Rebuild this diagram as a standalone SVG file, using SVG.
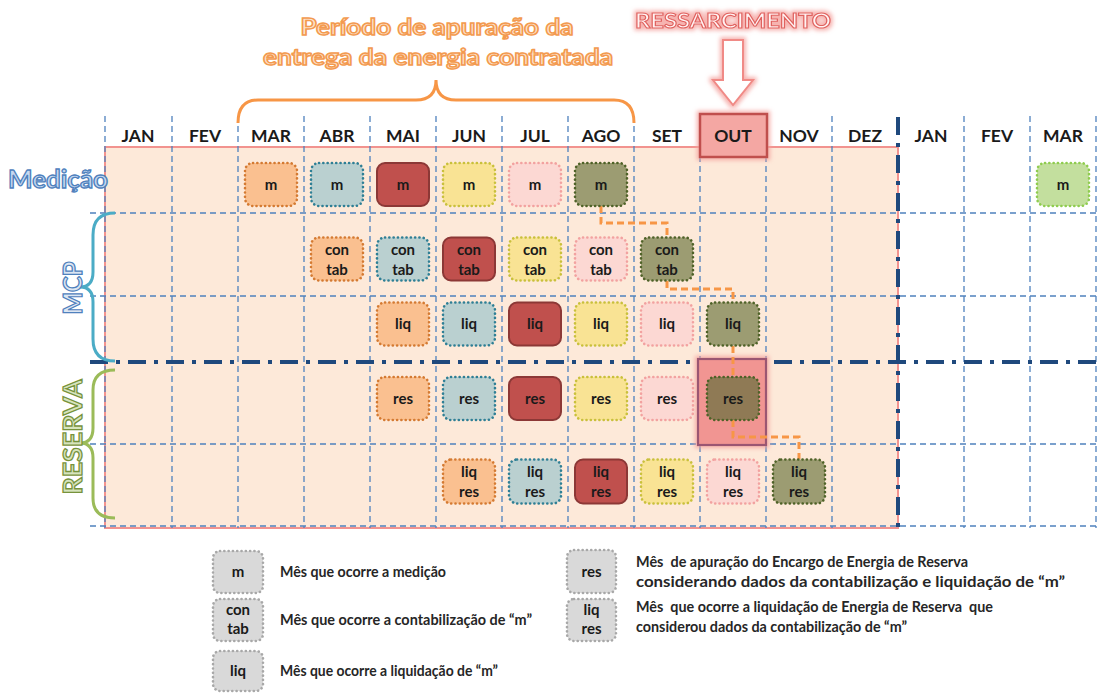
<svg xmlns="http://www.w3.org/2000/svg" width="1103" height="693" viewBox="0 0 1103 693">
<defs>
<style>
.mon{font-family:Lato,"Liberation Sans",sans-serif;font-weight:bold;font-size:17.5px;fill:#1a1a1a;text-anchor:middle}
.bt{font-family:Lato,"Liberation Sans",sans-serif;font-weight:bold;font-size:15px;fill:#1a1a1a;text-anchor:middle}
.lg{font-family:Lato,"Liberation Sans",sans-serif;font-weight:bold;font-size:15px;fill:#262626;white-space:pre}
.dot{stroke-width:2.6;stroke-dasharray:0.1 4.2;stroke-linecap:round}
.peach{fill:#fac090;stroke:#d47a32}
.blue{fill:#bad0d0;stroke:#2f7f95}
.red{fill:#c0504d;stroke:#8c3836;stroke-width:2}
.yellow{fill:#f9e394;stroke:#c9c03c}
.pink{fill:#fcd8d3;stroke:#f2a2a0}
.olive{fill:#9c9c72;stroke:#4f6228}
.brown{fill:#8f7a55;stroke:#4f6228}
.green{fill:#c3df9e;stroke:#8fcc4f}
.gray{fill:#d9d9d9;stroke:#a8a8a8}
.grid{stroke:#4f81bd;stroke-width:1.3;stroke-dasharray:6 4;fill:none}
.thick{stroke:#1f497d;stroke-width:4;stroke-dasharray:18 8 4 8;fill:none}
.conn{stroke:#f79646;stroke-width:3;stroke-dasharray:7 4;fill:none}
.outline{font-family:Lato,"Liberation Sans",sans-serif;font-weight:bold;text-anchor:middle}
</style>
<filter id="glow" x="-30%" y="-30%" width="160%" height="160%">
<feMorphology in="SourceAlpha" operator="dilate" radius="1.5" result="d"/>
<feGaussianBlur in="d" stdDeviation="2" result="b"/>
<feFlood flood-color="#f4a09c" flood-opacity="0.8"/>
<feComposite in2="b" operator="in" result="g"/>
<feMerge><feMergeNode in="g"/><feMergeNode in="SourceGraphic"/></feMerge>
</filter>
</defs>
<rect width="1103" height="693" fill="#ffffff"/>

<!-- background area -->
<rect x="105" y="147" width="793" height="381" fill="#fde9d9" stroke="#f2938f" stroke-width="2"/>

<!-- grid -->
<g id="grid">
<path class="grid" d="M105,116V528M172,116V528M238,116V528M304,116V528M370,116V528M436,116V528M502,116V528M568,116V528M634,116V528M700,116V528M766,116V528M832,116V528M964,116V528M1030,116V528M1096,116V528"/>
<path class="grid" d="M90,213H1100M90,296H1100M90,444H1100M90,526H1100"/>
<path class="thick" d="M90,362H1103"/>
<path class="thick" d="M898,117V528"/>
</g>

<!-- headers -->
<g id="out-highlight"><rect x="700" y="114" width="67" height="43" fill="#f4a7a3" stroke="#c0504d" stroke-width="2.5" filter="url(#glow)"/></g>
<g id="months">
<text class="mon" x="138" y="142">JAN</text>
<text class="mon" x="205" y="142">FEV</text>
<text class="mon" x="271" y="142">MAR</text>
<text class="mon" x="337" y="142">ABR</text>
<text class="mon" x="403" y="142">MAI</text>
<text class="mon" x="469" y="142">JUN</text>
<text class="mon" x="535" y="142">JUL</text>
<text class="mon" x="601" y="142">AGO</text>
<text class="mon" x="667" y="142">SET</text>
<text class="mon" x="733" y="142">OUT</text>
<text class="mon" x="799" y="142">NOV</text>
<text class="mon" x="865" y="142">DEZ</text>
<text class="mon" x="931" y="142">JAN</text>
<text class="mon" x="997" y="142">FEV</text>
<text class="mon" x="1063" y="142">MAR</text>
</g>

<!-- title / brace -->
<g id="periodo">
<text class="outline" x="437" y="35" font-size="23" fill="#fde3cc" stroke="#f39a4f" stroke-width="1.5" textLength="273" lengthAdjust="spacingAndGlyphs">Período de apuração da</text>
<text class="outline" x="438" y="65" font-size="23" fill="#fde3cc" stroke="#f39a4f" stroke-width="1.5" textLength="350" lengthAdjust="spacingAndGlyphs">entrega da energia contratada</text>
<path d="M238,123 Q238,100 258,100 H416 Q436,100 436,80 Q436,100 456,100 H614 Q634,100 634,123" fill="none" stroke="#f79646" stroke-width="3"/>
</g>
<g id="ressarcimento">
<text class="outline" x="733" y="28" font-size="21" fill="#fff3f3" stroke="#e0625f" stroke-width="1.1" textLength="196" lengthAdjust="spacingAndGlyphs" filter="url(#glow)">RESSARCIMENTO</text>
<polygon points="723,40 743,40 743,80 753,80 733,105 713,80 723,80" fill="#ffffff" stroke="#f08a86" stroke-width="2" filter="url(#glow)"/>
</g>

<!-- side labels -->
<g id="medicao"><text class="outline" x="58" y="188" font-size="24" fill="#c6d9f1" stroke="#4f81bd" stroke-width="1.3" textLength="100" lengthAdjust="spacingAndGlyphs">Medição</text></g>
<g id="mcp">
<path d="M115,213 Q93,213 93,235 V272 Q93,287 80,287 Q93,287 93,302 V339 Q93,361 115,361" fill="none" stroke="#4bacc6" stroke-width="3"/>
<text class="outline" transform="translate(82,288) rotate(-90)" x="0" y="0" font-size="27" fill="#dce6f2" stroke="#4f81bd" stroke-width="1.3" textLength="53" lengthAdjust="spacingAndGlyphs">MCP</text>
</g>
<g id="reserva">
<path d="M115,370 Q93,370 93,390 V428 Q93,443 80,443 Q93,443 93,458 V498 Q93,518 115,518" fill="none" stroke="#9bbb59" stroke-width="3"/>
<text class="outline" transform="translate(82,437) rotate(-90)" x="0" y="0" font-size="27" fill="#d7e4bd" stroke="#77933c" stroke-width="1.3" textLength="115" lengthAdjust="spacingAndGlyphs">RESERVA</text>
</g>

<!-- highlight behind res OUT -->
<g id="res-out-highlight"><rect x="698" y="359" width="68" height="86" fill="#f19592" stroke="#9b5672" stroke-width="2.2" filter="url(#glow)"/></g>

<!-- connectors -->
<g id="connectors">
<path class="conn" d="M601,206 V223 H667 V237"/>
<path class="conn" d="M667,281 V289 H733 V302"/>
<path class="conn" d="M733,346 V377"/>
<path class="conn" d="M733,420 V437 H799 V459"/>
</g>

<!-- Medição row -->
<g id="m-mar"><rect class="peach dot" x="245" y="163" width="52" height="43" rx="8"/><text class="bt" x="271" y="189.5">m</text></g>
<g id="m-abr"><rect class="blue dot" x="311" y="163" width="52" height="43" rx="8"/><text class="bt" x="337" y="189.5">m</text></g>
<g id="m-mai"><rect class="red" x="377" y="163" width="52" height="43" rx="8"/><text class="bt" x="403" y="189.5">m</text></g>
<g id="m-jun"><rect class="yellow dot" x="443" y="163" width="52" height="43" rx="8"/><text class="bt" x="469" y="189.5">m</text></g>
<g id="m-jul"><rect class="pink dot" x="509" y="163" width="52" height="43" rx="8"/><text class="bt" x="535" y="189.5">m</text></g>
<g id="m-ago"><rect class="olive dot" x="575" y="163" width="52" height="43" rx="8"/><text class="bt" x="601" y="189.5">m</text></g>
<g id="m-mar2"><rect class="green dot" x="1037" y="163" width="52" height="43" rx="8"/><text class="bt" x="1063" y="189.5">m</text></g>

<!-- MCP contab row -->
<g id="ct-abr"><rect class="peach dot" x="311" y="237.5" width="52" height="43" rx="8"/><text class="bt" x="337" y="255">con</text><text class="bt" x="337" y="274.5">tab</text></g>
<g id="ct-mai"><rect class="blue dot" x="377" y="237.5" width="52" height="43" rx="8"/><text class="bt" x="403" y="255">con</text><text class="bt" x="403" y="274.5">tab</text></g>
<g id="ct-jun"><rect class="red" x="443" y="237.5" width="52" height="43" rx="8"/><text class="bt" x="469" y="255">con</text><text class="bt" x="469" y="274.5">tab</text></g>
<g id="ct-jul"><rect class="yellow dot" x="509" y="237.5" width="52" height="43" rx="8"/><text class="bt" x="535" y="255">con</text><text class="bt" x="535" y="274.5">tab</text></g>
<g id="ct-ago"><rect class="pink dot" x="575" y="237.5" width="52" height="43" rx="8"/><text class="bt" x="601" y="255">con</text><text class="bt" x="601" y="274.5">tab</text></g>
<g id="ct-set"><rect class="olive dot" x="641" y="237.5" width="52" height="43" rx="8"/><text class="bt" x="667" y="255">con</text><text class="bt" x="667" y="274.5">tab</text></g>

<!-- MCP liq row -->
<g id="lq-mai"><rect class="peach dot" x="377" y="302.5" width="52" height="43" rx="8"/><text class="bt" x="403" y="329">liq</text></g>
<g id="lq-jun"><rect class="blue dot" x="443" y="302.5" width="52" height="43" rx="8"/><text class="bt" x="469" y="329">liq</text></g>
<g id="lq-jul"><rect class="red" x="509" y="302.5" width="52" height="43" rx="8"/><text class="bt" x="535" y="329">liq</text></g>
<g id="lq-ago"><rect class="yellow dot" x="575" y="302.5" width="52" height="43" rx="8"/><text class="bt" x="601" y="329">liq</text></g>
<g id="lq-set"><rect class="pink dot" x="641" y="302.5" width="52" height="43" rx="8"/><text class="bt" x="667" y="329">liq</text></g>
<g id="lq-out"><rect class="olive dot" x="707" y="302.5" width="52" height="43" rx="8"/><text class="bt" x="733" y="329">liq</text></g>

<!-- RESERVA res row -->
<g id="rs-mai"><rect class="peach dot" x="377" y="377" width="52" height="43" rx="8"/><text class="bt" x="403" y="403.5">res</text></g>
<g id="rs-jun"><rect class="blue dot" x="443" y="377" width="52" height="43" rx="8"/><text class="bt" x="469" y="403.5">res</text></g>
<g id="rs-jul"><rect class="red" x="509" y="377" width="52" height="43" rx="8"/><text class="bt" x="535" y="403.5">res</text></g>
<g id="rs-ago"><rect class="yellow dot" x="575" y="377" width="52" height="43" rx="8"/><text class="bt" x="601" y="403.5">res</text></g>
<g id="rs-set"><rect class="pink dot" x="641" y="377" width="52" height="43" rx="8"/><text class="bt" x="667" y="403.5">res</text></g>
<g id="rs-out"><rect class="brown dot" x="707" y="377" width="52" height="43" rx="8"/><text class="bt" x="733" y="403.5">res</text></g>

<!-- RESERVA liq res row -->
<g id="lr-jun"><rect class="peach dot" x="443" y="459.5" width="52" height="44" rx="8"/><text class="bt" x="469" y="477">liq</text><text class="bt" x="469" y="497">res</text></g>
<g id="lr-jul"><rect class="blue dot" x="509" y="459.5" width="52" height="44" rx="8"/><text class="bt" x="535" y="477">liq</text><text class="bt" x="535" y="497">res</text></g>
<g id="lr-ago"><rect class="red" x="575" y="459.5" width="52" height="44" rx="8"/><text class="bt" x="601" y="477">liq</text><text class="bt" x="601" y="497">res</text></g>
<g id="lr-set"><rect class="yellow dot" x="641" y="459.5" width="52" height="44" rx="8"/><text class="bt" x="667" y="477">liq</text><text class="bt" x="667" y="497">res</text></g>
<g id="lr-out"><rect class="pink dot" x="707" y="459.5" width="52" height="44" rx="8"/><text class="bt" x="733" y="477">liq</text><text class="bt" x="733" y="497">res</text></g>
<g id="lr-nov"><rect class="olive dot" x="773" y="459.5" width="52" height="44" rx="8"/><text class="bt" x="799" y="477">liq</text><text class="bt" x="799" y="497">res</text></g>

<!-- legend -->
<g id="legend-m"><rect class="gray dot" x="213" y="551" width="50" height="42" rx="7"/><text class="bt" x="238" y="577">m</text><text class="lg" x="280" y="577" textLength="166" lengthAdjust="spacingAndGlyphs">Mês que ocorre a medição</text></g>
<g id="legend-contab"><rect class="gray dot" x="213" y="599" width="50" height="42" rx="7"/><text class="bt" x="238" y="615">con</text><text class="bt" x="238" y="634">tab</text><text class="lg" x="280" y="625" textLength="252" lengthAdjust="spacingAndGlyphs">Mês que ocorre a contabilização de “m”</text></g>
<g id="legend-liq"><rect class="gray dot" x="213" y="651" width="50" height="40" rx="7"/><text class="bt" x="238" y="676">liq</text><text class="lg" x="280" y="676" textLength="218" lengthAdjust="spacingAndGlyphs">Mês que ocorre a liquidação de “m”</text></g>
<g id="legend-res"><rect class="gray dot" x="567" y="550" width="49" height="43" rx="7"/><text class="bt" x="591.5" y="577">res</text><text class="lg" x="636" y="567" textLength="332" lengthAdjust="spacingAndGlyphs">Mês  de apuração do Encargo de Energia de Reserva</text><text class="lg" x="636" y="587" textLength="429" lengthAdjust="spacingAndGlyphs">considerando dados da contabilização e liquidação de “m”</text></g>
<g id="legend-liqres"><rect class="gray dot" x="567" y="599" width="49" height="42" rx="7"/><text class="bt" x="591.5" y="615">liq</text><text class="bt" x="591.5" y="634">res</text><text class="lg" x="636" y="612" textLength="357" lengthAdjust="spacingAndGlyphs">Mês  que ocorre a liquidação de Energia de Reserva  que</text><text class="lg" x="636" y="632" textLength="271" lengthAdjust="spacingAndGlyphs">considerou dados da contabilização de “m”</text></g>
</svg>
